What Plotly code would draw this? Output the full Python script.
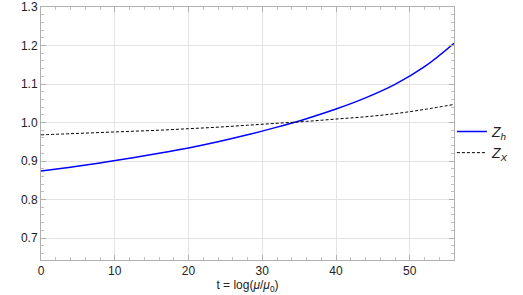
import plotly.graph_objects as go

t_vals = [0, 4, 8, 12, 16, 20, 24, 28, 32, 36, 40, 44, 48, 52, 56]
zh_vals = [0.874, 0.884, 0.895, 0.907, 0.920, 0.934, 0.950, 0.968, 0.988, 1.010, 1.035, 1.064, 1.099, 1.145, 1.206]
zx_vals = [0.968, 0.971, 0.974, 0.977, 0.980, 0.984, 0.988, 0.993, 0.998, 1.003, 1.009, 1.015, 1.023, 1.034, 1.047]

x_ticks = [0, 10, 20, 30, 40, 50]
y_ticks = [0.7, 0.8, 0.9, 1.0, 1.1, 1.2, 1.3]
y_tick_text = ["0.7", "0.8", "0.9", "1.0", "1.1", "1.2", "1.3"]

fig = go.Figure()
fig.add_trace(go.Scatter(x=t_vals, y=zh_vals, mode="lines",
                         line=dict(color="#0000ff", width=1.5, shape="spline", smoothing=1.0),
                         name="<i>Z</i><sub><i>h</i></sub>"))
fig.add_trace(go.Scatter(x=t_vals, y=zx_vals, mode="lines",
                         line=dict(color="#000000", width=1, dash="3px,2px", shape="spline", smoothing=1.0),
                         name="<i>Z</i><sub><i>X</i></sub>"))

tick_font = dict(family="Liberation Sans, Arial", size=12, color="#222")
axis_common = dict(
    showline=True, linecolor="#b0b0b0", linewidth=1, mirror="ticks",
    ticks="inside", ticklen=5, tickcolor="#b0b0b0",
    showgrid=True, gridcolor="#e3e3e3", gridwidth=1, zeroline=False,
    tickfont=tick_font, automargin=False,
)
fig.update_xaxes(range=[0, 56], tickvals=x_ticks,
                 minor=dict(ticks="inside", ticklen=3, tickcolor="#c0c0c0", dtick=2, showgrid=False),
                 title=dict(text="t = log(<i>μ</i>/<i>μ</i><sub>0</sub>)", font=tick_font, standoff=2),
                 **axis_common)
fig.update_yaxes(range=[0.643, 1.3], tickvals=y_ticks, ticktext=y_tick_text,
                 minor=dict(ticks="inside", ticklen=3, tickcolor="#c0c0c0", dtick=0.02, showgrid=False),
                 **axis_common)
fig.update_layout(
    width=523, height=295,
    margin=dict(l=41, r=69, t=7, b=35),
    plot_bgcolor="white", paper_bgcolor="white",
    legend=dict(x=0.995, y=0.465, xanchor="left", yanchor="middle",
                font=dict(family="Liberation Sans, Arial", size=14, color="#222"),
                itemwidth=30, tracegroupgap=2, bgcolor="rgba(0,0,0,0)"),
)
fig.write_html("out.html", config={"displayModeBar": False},
               post_script="document.body.style.margin='0';document.body.style.padding='0';")
